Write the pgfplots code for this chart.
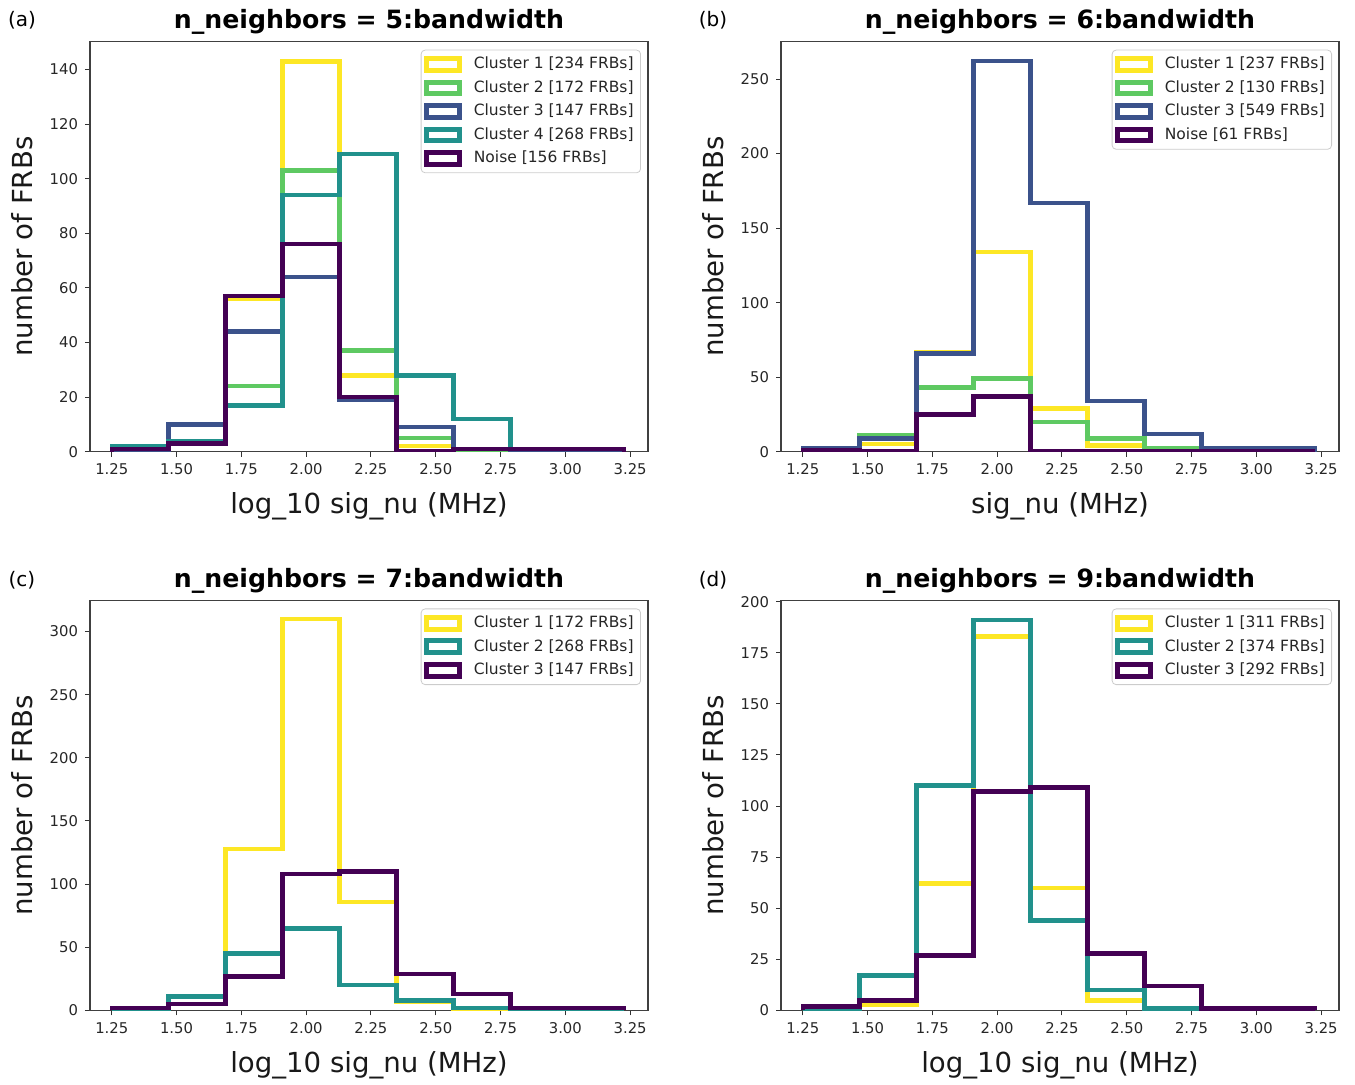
\documentclass[border=0pt]{standalone}
\usepackage{fontspec}
\setmainfont{DejaVu Sans}
\usepackage{pgfplots}
\pgfplotsset{compat=1.18}
\definecolor{vyellow}{HTML}{FDE725}
\definecolor{vgreen}{HTML}{5EC962}
\definecolor{vblue}{HTML}{3B528B}
\definecolor{vteal}{HTML}{21918C}
\definecolor{vpurple}{HTML}{440154}
\pgfplotsset{
  histaxis/.style={
    scale only axis, width=279pt, height=205pt,
    xmin=1.166, xmax=3.319, ymin=0,
    xtick={1.25,1.5,1.75,2,2.25,2.5,2.75,3,3.25},
    xticklabel style={/pgf/number format/.cd,fixed,fixed zerofill,precision=2},
    /pgf/number format/assume math mode=true,
    tick label style={font=\fontsize{7.4}{9}\selectfont, text=black!85},
    tick align=outside, tick pos=left,
    major tick length=2.5pt,
    every tick/.style={black!80, line width=0.5pt},
    axis line style={black!75, line width=0.6pt},
    title style={font=\bfseries\fontsize{12.6}{15}\selectfont, yshift=-6pt},
    label style={font=\fontsize{13.8}{16}\selectfont, text=black!90},
    xlabel style={at={(axis description cs:0.5,-0.134)}, anchor=center},
    ylabel style={at={(axis description cs:-0.122,0.5)}, anchor=center},
    ylabel={number of FRBs},
    legend style={at={(1,1)}, anchor=north east, xshift=-3.5pt, yshift=-4pt,
      draw=black!20, rounded corners=2pt, fill=white, fill opacity=0.8, text opacity=1,
      font=\fontsize{7.75}{9}\selectfont, text=black!85, row sep=0.35pt, inner sep=1.5pt},
    legend cell align=left,
    legend image code/.code={\draw[#1, line width=2.5pt, sharp corners] (0.5pt,-2.9pt) rectangle (17pt,2.9pt); \path (21pt,0pt);},
  },
  hl/.style={const plot, line width=2.25pt, line join=miter, mark=none},
}
\begin{document}
\begin{tikzpicture}
\path[use as bounding box] (0,0) rectangle (677.5pt,542.5pt);
\node[font=\fontsize{10}{12}\selectfont] at (11pt,532.5pt) {(a)};
\node[font=\fontsize{10}{12}\selectfont] at (356.5pt,532.5pt) {(b)};
\node[font=\fontsize{10}{12}\selectfont] at (11pt,252.5pt) {(c)};
\node[font=\fontsize{10}{12}\selectfont] at (356.5pt,252.5pt) {(d)};

% (a)
\begin{axis}[histaxis, at={(45pt,316.65pt)}, anchor=south west,
  ymax=150.2, ytick={0,20,...,140},
  title={n\_neighbors = 5:bandwidth}, xlabel={log\_10 sig\_nu (MHz)}]
\addplot[hl, vyellow] coordinates {(1.25,0)(1.25,0)(1.4697,4)(1.6894,56)(1.9091,143)(2.1288,28)(2.3485,2)(2.5682,0)(2.7879,0)(3.0076,0)(3.2273,0)};
\addlegendentry{Cluster 1 [234 FRBs]}
\addplot[hl, vgreen] coordinates {(1.25,0)(1.25,0)(1.4697,3)(1.6894,24)(1.9091,103)(2.1288,37)(2.3485,5)(2.5682,0)(2.7879,0)(3.0076,0)(3.2273,0)};
\addlegendentry{Cluster 2 [172 FRBs]}
\addplot[hl, vblue] coordinates {(1.25,0)(1.25,0)(1.4697,10)(1.6894,44)(1.9091,64)(2.1288,19)(2.3485,9)(2.5682,1)(2.7879,0)(3.0076,0)(3.2273,0)};
\addlegendentry{Cluster 3 [147 FRBs]}
\addplot[hl, vteal] coordinates {(1.25,0)(1.25,2)(1.4697,4)(1.6894,17)(1.9091,94)(2.1288,109)(2.3485,28)(2.5682,12)(2.7879,1)(3.0076,1)(3.2273,0)};
\addlegendentry{Cluster 4 [268 FRBs]}
\addplot[hl, vpurple] coordinates {(1.25,0)(1.25,1)(1.4697,3)(1.6894,57)(1.9091,76)(2.1288,20)(2.3485,0)(2.5682,1)(2.7879,1)(3.0076,1)(3.2273,0)};
\addlegendentry{Noise [156 FRBs]}
\end{axis}

% (b)
\begin{axis}[histaxis, at={(390.5pt,316.65pt)}, anchor=south west,
  ymax=275.1, ytick={0,50,...,250},
  title={n\_neighbors = 6:bandwidth}, xlabel={sig\_nu (MHz)}]
\addplot[hl, vyellow] coordinates {(1.25,0)(1.25,0)(1.4697,5)(1.6894,67)(1.9091,134)(2.1288,29)(2.3485,4)(2.5682,0)(2.7879,0)(3.0076,0)(3.2273,0)};
\addlegendentry{Cluster 1 [237 FRBs]}
\addplot[hl, vgreen] coordinates {(1.25,0)(1.25,0)(1.4697,11)(1.6894,43)(1.9091,49)(2.1288,20)(2.3485,9)(2.5682,2)(2.7879,0)(3.0076,0)(3.2273,0)};
\addlegendentry{Cluster 2 [130 FRBs]}
\addplot[hl, vblue] coordinates {(1.25,0)(1.25,2)(1.4697,9)(1.6894,66)(1.9091,262)(2.1288,167)(2.3485,34)(2.5682,12)(2.7879,2)(3.0076,2)(3.2273,0)};
\addlegendentry{Cluster 3 [549 FRBs]}
\addplot[hl, vpurple] coordinates {(1.25,0)(1.25,1)(1.4697,0)(1.6894,25)(1.9091,37)(2.1288,0)(2.3485,0)(2.5682,0)(2.7879,0)(3.0076,0)(3.2273,0)};
\addlegendentry{Noise [61 FRBs]}
\end{axis}

% (c)
\begin{axis}[histaxis, at={(45pt,37.25pt)}, anchor=south west,
  ymax=324.5, ytick={0,50,...,300},
  title={n\_neighbors = 7:bandwidth}, xlabel={log\_10 sig\_nu (MHz)}]
\addplot[hl, vyellow] coordinates {(1.25,0)(1.25,0)(1.4697,5)(1.6894,128)(1.9091,310)(2.1288,86)(2.3485,7)(2.5682,0)(2.7879,0)(3.0076,0)(3.2273,0)};
\addlegendentry{Cluster 1 [172 FRBs]}
\addplot[hl, vteal] coordinates {(1.25,0)(1.25,0)(1.4697,11)(1.6894,45)(1.9091,65)(2.1288,20)(2.3485,8)(2.5682,2)(2.7879,0)(3.0076,0)(3.2273,0)};
\addlegendentry{Cluster 2 [268 FRBs]}
\addplot[hl, vpurple] coordinates {(1.25,0)(1.25,2)(1.4697,5)(1.6894,27)(1.9091,108)(2.1288,110)(2.3485,29)(2.5682,13)(2.7879,2)(3.0076,2)(3.2273,0)};
\addlegendentry{Cluster 3 [147 FRBs]}
\end{axis}

% (d)
\begin{axis}[histaxis, at={(390.5pt,37.25pt)}, anchor=south west,
  ymax=200.55, ytick={0,25,...,200},
  title={n\_neighbors = 9:bandwidth}, xlabel={log\_10 sig\_nu (MHz)}]
\addplot[hl, vyellow] coordinates {(1.25,0)(1.25,0)(1.4697,3)(1.6894,62)(1.9091,183)(2.1288,60)(2.3485,5)(2.5682,0)(2.7879,0)(3.0076,0)(3.2273,0)};
\addlegendentry{Cluster 1 [311 FRBs]}
\addplot[hl, vteal] coordinates {(1.25,0)(1.25,1)(1.4697,17)(1.6894,110)(1.9091,191)(2.1288,44)(2.3485,10)(2.5682,1)(2.7879,0)(3.0076,0)(3.2273,0)};
\addlegendentry{Cluster 2 [374 FRBs]}
\addplot[hl, vpurple] coordinates {(1.25,0)(1.25,2)(1.4697,5)(1.6894,27)(1.9091,107)(2.1288,109)(2.3485,28)(2.5682,12)(2.7879,1)(3.0076,1)(3.2273,0)};
\addlegendentry{Cluster 3 [292 FRBs]}
\end{axis}
\end{tikzpicture}
\end{document}
